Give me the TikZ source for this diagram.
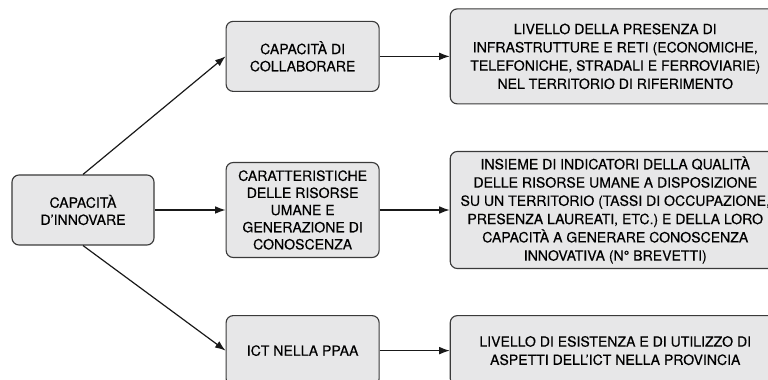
\documentclass[tikz,border=0pt]{standalone}
\usepackage{fontspec}
\setmainfont{TeX Gyre Heros}[BoldFont=TeX Gyre Heros, BoldFeatures={FakeBold=0.35}]
\usepackage{tikz}
\usetikzlibrary{arrows.meta, positioning}
\definecolor{ciFill}{HTML}{E7E7E8}
\definecolor{ciLine}{HTML}{3A3A3A}
\tikzset{
  ci-box/.style={
    rectangle, rounded corners=5pt, draw=ciLine, fill=ciFill, line width=0.8pt,
    minimum height=1.75cm, align=center,
    font=\fontsize{10}{12.2}\selectfont\bfseries
  },
  ci-mid/.style={ci-box, minimum width=3.825cm},
  ci-wide/.style={ci-box, minimum width=8.25cm, font=\fontsize{10}{13}\selectfont\bfseries},
  ci-flow/.style={-{Latex[length=7.5pt,width=5.5pt]}, line width=0.85pt, draw=black!90},
}

\begin{document}
\begin{tikzpicture}
  \useasboundingbox (0,0) rectangle (19.2,9.5);
  \clip (0,0) rectangle (19.2,9.5);

  \node[ci-box, minimum width=3.55cm] (inn) at (2.075,4.25) {CAPACITÀ\\D’INNOVARE};

  \node[ci-mid, minimum height=2.375cm, right=1.775cm of inn] (ris)
       {CARATTERISTICHE\\DELLE RISORSE\\UMANE E\\GENERAZIONE DI\\CONOSCENZA};
  \node[ci-mid, above=1.75cm of ris]  (col) {CAPACITÀ DI\\COLLABORARE};
  \node[ci-mid, below=1.425cm of ris] (ict) {ICT NELLA PPAA};

  \node[ci-wide, minimum height=2.375cm, right=1.75cm of col] (infra)
       {LIVELLO DELLA PRESENZA DI\\INFRASTRUTTURE E RETI (ECONOMICHE,\\
        TELEFONICHE, STRADALI E FERROVIARIE)\\NEL TERRITORIO DI RIFERIMENTO};
  \node[ci-wide, minimum height=2.925cm, right=1.75cm of ris] (qual)
       {INSIEME DI INDICATORI DELLA QUALITÀ\\DELLE RISORSE UMANE A DISPOSIZIONE\\
        SU UN TERRITORIO (TASSI DI OCCUPAZIONE,\\PRESENZA LAUREATI, ETC.) E DELLA LORO\\
        CAPACITÀ A GENERARE CONOSCENZA\\INNOVATIVA (N° BREVETTI)};
  \node[ci-wide, right=1.75cm of ict] (prov)
       {LIVELLO DI ESISTENZA E DI UTILIZZO DI\\ASPETTI DELL’ICT NELLA PROVINCIA};

  \draw[ci-flow] (inn.north) -- (col.west);
  \draw[ci-flow] (inn) -- (ris);
  \draw[ci-flow] (inn.south) -- (ict.west);
  \draw[ci-flow] (col) -- (infra);
  \draw[ci-flow] (ris) -- (qual);
  \draw[ci-flow] (ict) -- (prov);
\end{tikzpicture}
\end{document}
